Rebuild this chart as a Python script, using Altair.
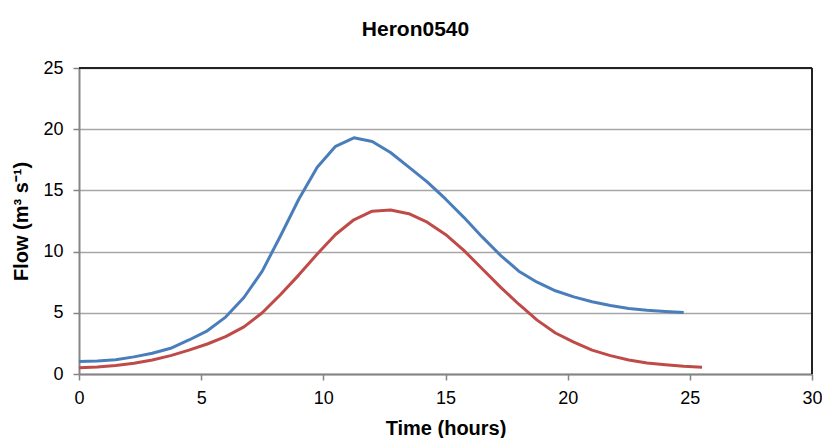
import altair as alt
import pandas as pd

time_blue = [0, 0.75, 1.5, 2.25, 3.0, 3.75, 4.5, 5.25, 6.0, 6.75, 7.5, 8.25, 9.0, 9.75,
             10.5, 11.25, 12.0, 12.75, 13.5, 14.25, 15.0, 15.75, 16.5, 17.25, 18.0,
             18.75, 19.5, 20.25, 21.0, 21.75, 22.5, 23.25, 24.0, 24.75]
flow_blue = [1.03, 1.06, 1.17, 1.40, 1.70, 2.10, 2.78, 3.53, 4.65, 6.25, 8.4, 11.3, 14.3, 16.9,
             18.6, 19.3, 19.0, 18.1, 16.9, 15.7, 14.3, 12.8, 11.2, 9.7, 8.4,
             7.5, 6.8, 6.3, 5.9, 5.6, 5.35, 5.2, 5.1, 5.02]

time_red = [0, 0.75, 1.5, 2.25, 3.0, 3.75, 4.5, 5.25, 6.0, 6.75, 7.5, 8.25, 9.0, 9.75,
            10.5, 11.25, 12.0, 12.75, 13.5, 14.25, 15.0, 15.75, 16.5, 17.25, 18.0,
            18.75, 19.5, 20.25, 21.0, 21.75, 22.5, 23.25, 24.0, 24.75, 25.5]
flow_red = [0.52, 0.58, 0.70, 0.88, 1.15, 1.5, 1.95, 2.45, 3.05, 3.85, 5.0, 6.5, 8.1, 9.8,
            11.4, 12.6, 13.3, 13.4, 13.1, 12.4, 11.4, 10.1, 8.6, 7.1, 5.7,
            4.4, 3.35, 2.6, 1.95, 1.5, 1.15, 0.9, 0.75, 0.63, 0.55]

series_names = ["Series A", "Series B"]
series_colors = ["#4a7ebb", "#be4b48"]
x_ticks = [0, 5, 10, 15, 20, 25, 30]
y_ticks = [0, 5, 10, 15, 20, 25]

df = pd.concat([
    pd.DataFrame({"t": time_blue, "flow": flow_blue, "s": series_names[0]}),
    pd.DataFrame({"t": time_red, "flow": flow_red, "s": series_names[1]}),
])

W, H = 733, 306
FONT = "Liberation Sans"

x_scale = alt.Scale(domain=[0, 30], nice=False, zero=True)
y_scale = alt.Scale(domain=[0, 25], nice=False)

lines = alt.Chart(df).mark_line(strokeWidth=3, strokeJoin="round").encode(
    x=alt.X("t:Q", scale=x_scale,
            axis=alt.Axis(values=x_ticks, title="Time (hours)", grid=False, labelFlush=False,
                          domainColor="#858585", domainWidth=2, tickColor="#858585",
                          tickWidth=1.5, tickSize=6, labelPadding=9, labelFontSize=18,
                          labelFont=FONT, labelColor="#000", titleFont=FONT,
                          titleFontSize=20, titleFontWeight="bold", titleColor="#000",
                          titleY=54, titleBaseline="middle")),
    y=alt.Y("flow:Q", scale=y_scale,
            axis=alt.Axis(values=y_ticks, title="Flow (m³ s⁻¹)", grid=True, labelFlush=False,
                          gridColor="#a6a6a6", gridWidth=1.5,
                          domainColor="#858585", domainWidth=2, tickColor="#858585",
                          tickWidth=1.5, tickSize=6, labelPadding=10, labelFontSize=18,
                          labelFont=FONT, labelColor="#000", titleFont=FONT,
                          titleFontSize=20, titleFontWeight="bold", titleColor="#000",
                          titleX=-58, titleY=H / 2, titleAngle=270,
                          titleBaseline="middle", titleAlign="center")),
    color=alt.Color("s:N", scale=alt.Scale(domain=series_names, range=series_colors),
                    legend=None),
    detail="s:N",
)

top_border = alt.Chart().mark_rule(color="#222", strokeWidth=2).encode(
    y=alt.datum(25, scale=y_scale)
)
right_border = alt.Chart().mark_rule(color="#222", strokeWidth=2).encode(
    x=alt.datum(30, scale=x_scale)
)

chart = alt.layer(lines, top_border, right_border).properties(
    width=W, height=H,
    title=alt.TitleParams("Heron0540", font=FONT, fontSize=21, fontWeight="bold",
                          color="#000", anchor="middle", dx=-30, offset=19),
    autosize=alt.AutoSizeParams(type="none"),
    padding={"left": 71, "top": 60, "right": 10, "bottom": 64},
).configure_view(stroke=None).configure(background="white")

chart.save("out.html", embed_options={"renderer": "svg", "actions": False})
